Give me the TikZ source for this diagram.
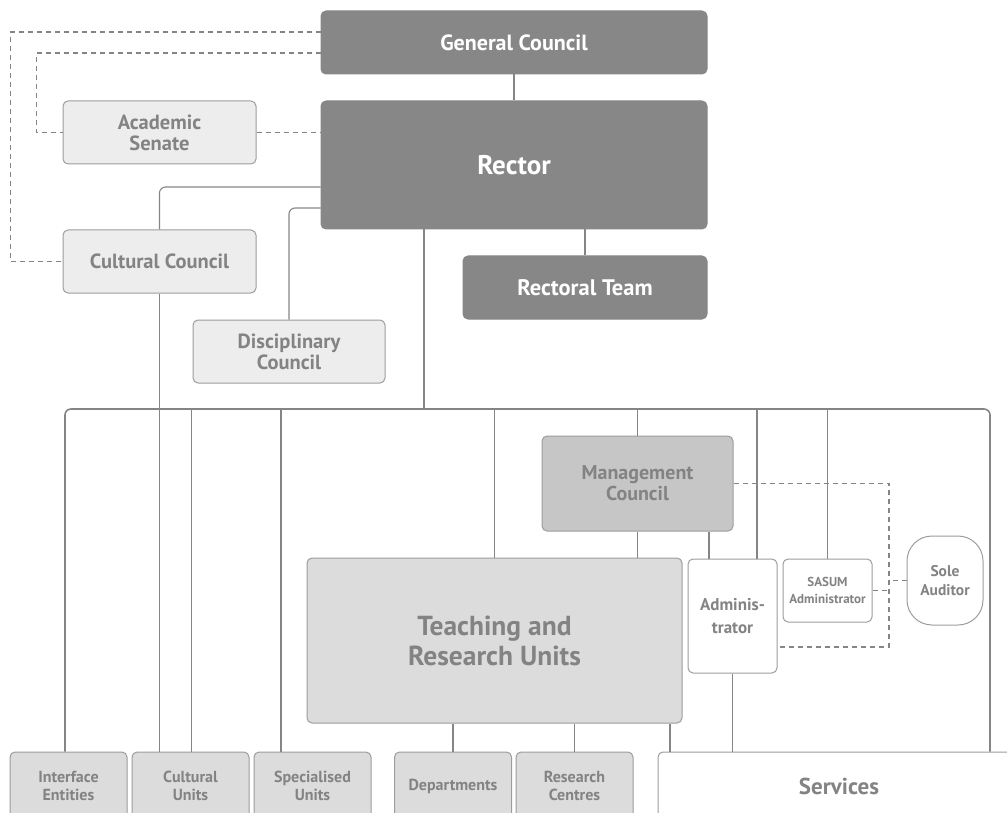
\documentclass[tikz,border=0pt]{standalone}
\usepackage{fontspec}
\setmainfont{PT Sans}
\definecolor{orgdark}{HTML}{878787}
\definecolor{orgline}{HTML}{858585}
\definecolor{orgtext}{HTML}{838383}
\definecolor{orgpale}{HTML}{EDEDED}
\definecolor{orgunit}{HTML}{DCDCDC}
\definecolor{orgmgmt}{HTML}{C6C6C6}
\newcommand{\fs}[2]{\fontsize{#1}{#2}\selectfont}
\tikzset{
  box/.style={draw=orgline!80, line width=1pt, rounded corners=5pt, align=center,
    inner sep=0pt, text=orgtext, font=\bfseries\fs{20.5}{21}},
  darkbox/.style={box, fill=orgdark, draw=orgdark, text=white},
  palebox/.style={box, fill=orgpale},
  unitbox/.style={box, fill=orgunit},
  link/.style={draw=orgline, line width=1.6pt},
  thinlink/.style={draw=orgline, line width=1.1pt},
  dashlink/.style={draw=orgline, line width=1.1pt, dash pattern=on 5pt off 4pt}
}
\begin{document}
\begin{tikzpicture}[x=1pt,y=-1pt]
  \clip (0,0) rectangle (1007,813);

  \node[darkbox, minimum width=386pt, minimum height=63pt, font=\bfseries\fs{22}{26}] (gc) at (514,42.5) {General Council};
  \node[darkbox, minimum width=386pt, minimum height=128pt, font=\bfseries\fs{27}{32}] (rector) at (514,165) {Rector};
  \node[darkbox, minimum width=244pt, minimum height=63pt, font=\bfseries\fs{22.5}{26}] (rt) at (585,287.5) {Rectoral Team};

  \node[palebox, minimum width=193pt, minimum height=63pt] (as) at (159.5,132.5) {Academic\\Senate};
  \node[palebox, minimum width=193pt, minimum height=63pt] (cc) at (159.5,261.5) {Cultural Council};
  \node[palebox, minimum width=192pt, minimum height=63pt] (dc) at (289,351.5) {Disciplinary\\Council};

  \node[box, fill=orgmgmt, minimum width=191pt, minimum height=95pt, font=\bfseries\fs{20}{21}] (mc) at (637.5,483.5) {Management\\Council};
  \node[unitbox, minimum width=375pt, minimum height=165pt, font=\bfseries\fs{27.5}{30}] (tru) at (494.5,640.5) {Teaching and\\Research Units};
  \node[box, fill=white, minimum width=89pt, minimum height=114pt, font=\bfseries\fs{17}{22.5}] (adm) at (732.5,616) {Adminis-\\trator};
  \node[box, fill=white, minimum width=89pt, minimum height=63pt, font=\bfseries\fs{13}{17}] (sasum) at (827.5,590.5) {SASUM\\Administrator};
  \node[box, fill=white, rounded corners=25pt, minimum width=76pt, minimum height=89pt, font=\bfseries\fs{15.5}{19}] (sole) at (945,580.5) {Sole\\Auditor};

  \foreach \n/\x/\t in {ie/68.5/Interface\\Entities, cu/190.5/Cultural\\Units, su/312.5/Specialised\\Units,
      dep/453/Departments, rc/574.5/Research\\Centres}
    \node[unitbox, minimum width=117pt, minimum height=68pt, font=\bfseries\fs{16}{18.5}] (\n) at (\x,786) {\t};
  \node[box, fill=white, minimum width=362pt, minimum height=68pt, font=\bfseries\fs{23}{26}] (services) at (839,786) {Services};

  \draw[link] (gc) -- (rector);
  \draw[link] (rt.north) -- (rt.north |- rector.south);

  \draw[dashlink] ([yshift=10.5pt]gc.west) -- ++(-310,0) |- (cc.west);
  \draw[dashlink] ([yshift=-10.5pt]gc.west) -- ++(-284,0) |- (as.west);
  \draw[dashlink] (as.east) -- (as.east -| rector.west);

  \draw[thinlink, rounded corners=6pt] ([yshift=-22pt]rector.west) -| (cc.north);
  \draw[thinlink] (cc.south) -- (cc.south |- cu.north);
  \draw[thinlink, rounded corners=6pt] ([yshift=-43pt]rector.west) -| (dc.north);

  \coordinate (busl) at (65,409);
  \coordinate (busr) at (990,409);
  \draw[link, rounded corners=6pt] (busl |- ie.north) -- (busl) -- (busr) -- (busr |- services.north);
  \coordinate (rdrop) at ([xshift=-90pt]rector.south);
  \draw[link] (rdrop) -- (rdrop |- busl);
  \foreach \t/\dx in {cu/1, su/-31.5, tru/0, mc/0, adm/24.5, sasum/0}{
    \coordinate (top) at ([xshift=\dx pt]\t.north);
    \draw[link] (top |- busl) -- (top);
  }

  \draw[thinlink] (mc.south) -- (mc.south |- tru.north);
  \coordinate (madm) at ([xshift=-23.5pt]adm.north);
  \draw[thinlink] (madm) -- (madm |- mc.south);

  \coordinate (dbot) at (889,647);
  \draw[dashlink] (mc.east) -| (dbot) -- (dbot -| adm.east);
  \draw[dashlink] (sasum.east) -- (sasum.east -| dbot);
  \draw[dashlink] (sole.west) -- (sole.west -| dbot);

  \foreach \t in {dep, rc}
    \draw[link] (\t.north |- tru.south) -- (\t.north);
  \coordinate (tsv) at ([xshift=175.5pt]tru.south);
  \draw[thinlink] (tsv) -- (tsv |- services.north);
  \draw[thinlink] (adm.south) -- (adm.south |- services.north);
\end{tikzpicture}
\end{document}
